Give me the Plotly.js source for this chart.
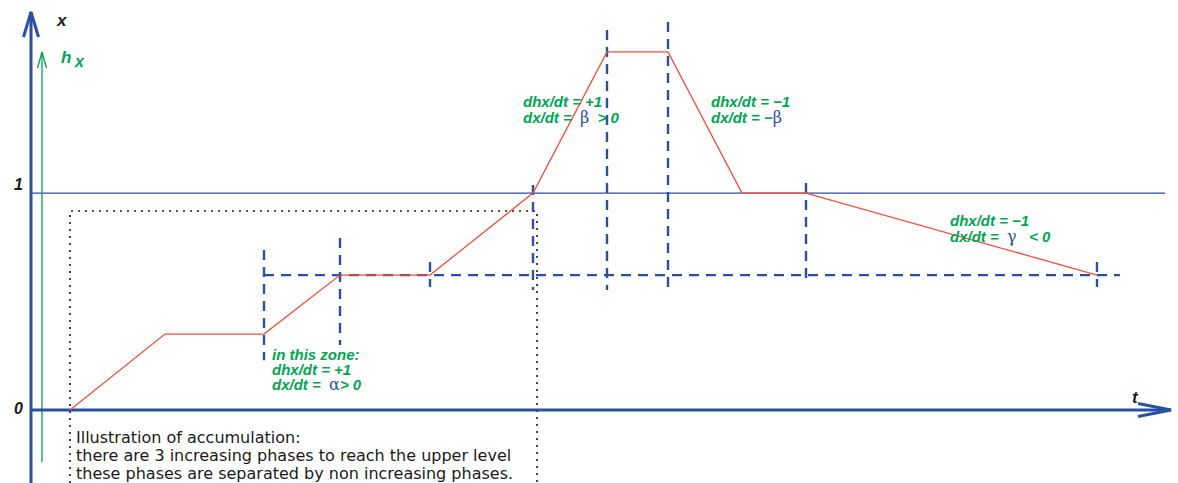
<!DOCTYPE html>
<html>
<head>
<meta charset="utf-8">
<script src="https://cdn.plot.ly/plotly-3.0.1.min.js"></script>
<style>html,body{margin:0;padding:0;background:#fff;}#chart{width:1178px;height:483px;}</style>
</head>
<body>
<div id="chart"></div>
<script>
// ---- data (t in arbitrary time units, x in level units: 0 and 1 marked) ----
const trajT = [39, 134, 233, 309, 399, 502, 576, 637, 711, 775, 1066];
const trajX = [0, 0.35, 0.35, 0.622, 0.622, 1, 1.65, 1.65, 1, 1, 0.622];

const midLevel = 0.622;          // dashed horizontal level
const midLevelT = [233, 1089];

const markT      = [233, 309, 399, 502, 576, 637, 775, 1066];
const markTop    = [0.737, 0.793, 0.682, 1.037, 1.751, 1.788, 1.046, 0.682];
const markBottom = [0.230, 0.300, 0.567, 0.553, 0.553, 0.553, 0.599, 0.567];

const accumLevel = 0.917;        // dotted frame level
const accumT = [39, 506];

const upperLevel = 1;
const tMax = 1140, xMin = -0.336, xMax = 1.834;
const hT = 11, hTop = 1.65, hBottom = -0.24;

const noteLines = [
  "Illustration of accumulation:",
  "there are 3 increasing phases to reach the upper level",
  "these phases are separated by non increasing phases."
];

// ---- styles ----
const BLUE = "#2b4fa3", RED = "#f0503a", GREEN = "#00a650", BLACK = "#1a1a1a";
const W = 1178, H = 483;
const tRange = [-31, 1147], xRange = [xMin, 1.8894];

function seg(list) { // list of [t,x] polylines -> arrays with null separators
  const xs = [], ys = [];
  list.forEach((pl, i) => { if (i) { xs.push(null); ys.push(null); } pl.forEach(p => { xs.push(p[0]); ys.push(p[1]); }); });
  return {x: xs, y: ys};
}
const line = (d, color, width, dash) => Object.assign({type: "scatter", mode: "lines", hoverinfo: "skip",
  line: {color: color, width: width, dash: dash || "solid"}}, d);

const vScale = (xRange[1] - xRange[0]) / H; // x units per pixel
const hScale = (tRange[1] - tRange[0]) / W;

const traces = [];
// dotted accumulation frame
traces.push(line(seg([[[accumT[0], xMin], [accumT[0], accumLevel], [accumT[1], accumLevel], [accumT[1], xMin]]]), BLACK, 1.6, "2px,5px"));
// upper level
traces.push(line(seg([[[0, upperLevel], [1134, upperLevel]]]), BLUE, 1.3));
// dashed marks
traces.push(line(seg([[[midLevelT[0], midLevel], [midLevelT[1], midLevel]]]), BLUE, 2.4, "10px,7px"));
traces.push(line(seg(markT.map((t, i) => [[t, markTop[i]], [t, markBottom[i]]])), BLUE, 2.4, "10px,7px"));
// green h_x axis
const gh = 16 * vScale, gw = 4.5 * hScale;
traces.push(line(seg([[[hT, hBottom], [hT, hTop]], [[hT - gw, hTop - gh], [hT, hTop], [hT + gw, hTop - gh]]]), GREEN, 1.3));
// main axes with open arrow heads
const ah = 25 * vScale, aw = 7.5 * hScale;
traces.push(line(seg([[[0, xMin], [0, xMax]], [[-aw, xMax - ah], [0, xMax], [aw, xMax - ah]]]), BLUE, 3));
const bh = 6.5 * vScale, bw = 33 * hScale;
traces.push(line(seg([[[0, 0], [tMax, 0]], [[tMax - bw, bh], [tMax, 0], [tMax - bw, -bh]]]), BLUE, 3));
// trajectory
traces.push(line({x: trajT, y: trajX}, RED, 1.3));

// ---- annotations (positioned in pixels) ----
const SANS = "Liberation Sans, Arial, sans-serif";
const NOTE = "DejaVu Sans, sans-serif";
function ann(px, py, text, size, color, family) {
  return {xref: "paper", yref: "paper", x: px / W, y: 1 - py / H, xanchor: "left", yanchor: "middle",
    showarrow: false, text: text, font: {family: family || SANS, size: size, color: color}};
}
const bi = s => "<b><i>" + s + "</i></b>";
const greek = s => '<span style="color:' + BLUE + ';font-family:DejaVu Serif;font-weight:normal;font-style:normal;font-size:16px">' + s + "</span>";

const annotations = [
  ann(54, 20, bi("x"), 17, BLACK),
  ann(59, 57, bi("h"), 17, GREEN),
  ann(72, 62, bi("x"), 16, GREEN),
  ann(12, 184, bi("1"), 16, BLACK),
  ann(12, 408, bi("0"), 16, BLACK),
  ann(1130, 397, bi("t"), 17, BLACK),
  ann(270, 354, bi("in this zone:"), 15, GREEN),
  ann(270, 369, bi("dhx/dt = +1"), 15, GREEN),
  ann(270, 384, bi("dx/dt = &nbsp;") + greek("α") + bi("&gt; 0"), 15, GREEN),
  ann(521, 102, bi("dhx/dt = +1"), 15, GREEN),
  ann(521, 118, bi("dx/dt = &nbsp;") + greek("β") + bi(" &nbsp;&gt; 0"), 15, GREEN),
  ann(709, 102, bi("dhx/dt = −1"), 15, GREEN),
  ann(709, 118, bi("dx/dt = −") + greek("β"), 15, GREEN),
  ann(948, 221, bi("dhx/dt = −1"), 15, GREEN),
  ann(948, 237, bi("dx/dt = &nbsp;") + greek("γ") + bi(" &nbsp;&nbsp;&lt; 0"), 15, GREEN)
];
noteLines.forEach((s, i) => annotations.push(ann(74, 437 + i * 18, s, 16, BLACK, NOTE)));

const layout = {
  width: W, height: H,
  margin: {l: 0, r: 0, t: 0, b: 0},
  paper_bgcolor: "#fff", plot_bgcolor: "#fff",
  showlegend: false, hovermode: false,
  xaxis: {range: tRange, visible: false, showgrid: false, zeroline: false, fixedrange: true},
  yaxis: {range: xRange, visible: false, showgrid: false, zeroline: false, fixedrange: true},
  annotations: annotations
};
Plotly.newPlot("chart", traces, layout, {staticPlot: true, displayModeBar: false});
</script>
</body>
</html>
